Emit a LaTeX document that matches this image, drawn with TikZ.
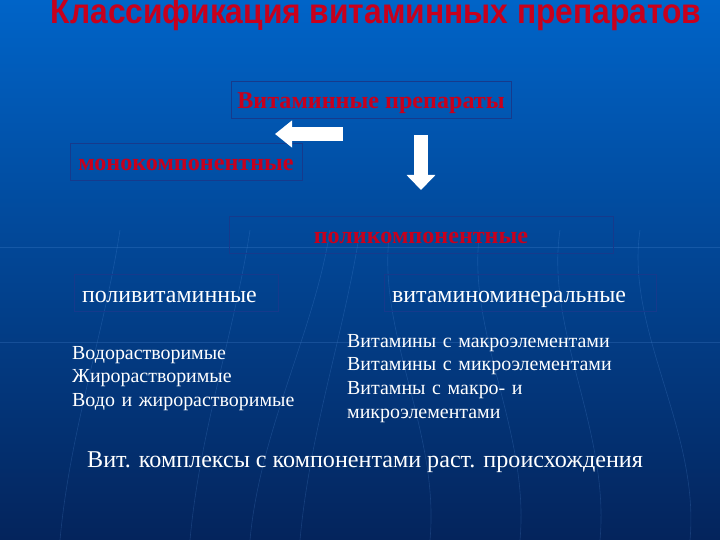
\documentclass[tikz,border=0pt]{standalone}
\usepackage{fontspec}
\usepackage{graphicx}
\setmainfont{Liberation Serif}
\newfontfamily\headfont{Liberation Sans}
\usetikzlibrary{arrows.meta}
\definecolor{bgtop}{RGB}{0,100,200}
\definecolor{bgmid}{RGB}{12,74,162}
\definecolor{bgbot}{RGB}{4,36,92}
\definecolor{boxline}{RGB}{22,58,140}
\definecolor{redtxt}{RGB}{200,0,28}
\definecolor{streak}{RGB}{100,160,235}
\begin{document}
\begin{tikzpicture}[x=1bp,y=-1bp]
  \tikzstyle{frame}=[draw=boxline, line width=0.8bp, inner sep=0pt, minimum height=37bp]
  \tikzstyle{redlabel}=[frame, text=redtxt, text height=22bp, text depth=4bp, font=\bfseries\fontsize{24.2}{27}\selectfont]
  \tikzstyle{whitelabel}=[frame, text=white, text height=24bp, text depth=5bp, font=\fontsize{24}{28}\selectfont, align=left, inner xsep=8bp]
  \tikzstyle{list}=[text=white, font=\fontsize{20}{24}\selectfont, inner sep=0pt, anchor=base west, align=left]
  \tikzstyle{blockarrow}=[white, line width=14bp]
  \useasboundingbox (0,0) rectangle (720,540);
  \shade[top color=bgtop, middle color=bgmid, bottom color=bgbot] (0,0) rectangle (720,540);
  % faint streaks of the slide background
  \draw[streak, opacity=.2, line width=.6bp] (0,247) -- (720,247);
  \draw[streak, opacity=.2, line width=.6bp] (0,342) -- (720,342);
  \foreach \a/\b in {60/120, 190/250, 250/330, 300/360, 430/390, 520/480, 600/560, 690/640}
    \draw[streak, opacity=.2, line width=.6bp] (\a,540) .. controls (\a+10,430) and (\b-15,330) .. (\b,230);
  \node (T) [anchor=base, text=redtxt, inner sep=0pt, font=\headfont\bfseries\fontsize{35}{38}\selectfont] at (376,24) {\scalebox{0.91}[1]{Классификация витаминных препаратов}};
  \node (V0) [redlabel, minimum width=280bp] at (371,99.5) {Витаминные препараты};
  \node (M1) [redlabel, minimum width=232bp] at (186,162) {монокомпонентные};
  \node (P1) [redlabel, minimum width=384bp] at (421,235) {поликомпонентные};
  \node (P2L) [whitelabel, text width=188bp] at (176,292.5) {поливитаминные};
  \node (P2R) [whitelabel, text width=256bp] at (520,292.5) {витаминоминеральные};
  \node (L1) [list, text width=240bp] at (72,359) {Водорастворимые\\Жирорастворимые\\Водо и жирорастворимые};
  \node (R1) [list, text width=300bp] at (347,347) {Витамины с макроэлементами\\Витамины с микроэлементами\\Витамны с макро- и\\микроэлементами};
  \node (K) [anchor=base west, text=white, inner sep=0pt, font=\fontsize{24.2}{28}\selectfont] at (87,467) {Вит. комплексы с компонентами раст. происхождения};
  \coordinate (A0) at (343,134);
  \coordinate (A1) at (275,134);
  \coordinate (D0) at (421,135);
  \coordinate (D1) at (421,190);
  \draw[blockarrow, -{Triangle[width=26bp,length=17bp]}] (A0) -- (A1);
  \draw[blockarrow, -{Triangle[width=28bp,length=15bp]}] (D0) -- (D1);
\end{tikzpicture}
\end{document}
